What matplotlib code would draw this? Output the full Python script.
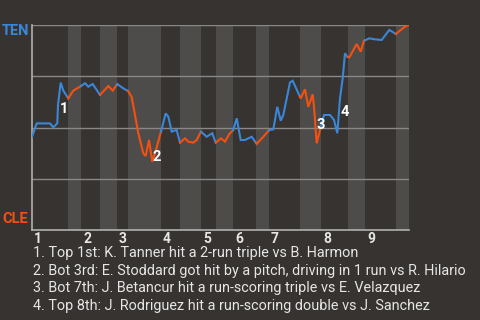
import matplotlib
matplotlib.use("Agg")
import matplotlib.pyplot as plt
import numpy as np

BG = "#363330"
BAND = "#4e4c4a"
GRID = "#8a8886"
BLUE = "#3a87d8"
ORANGE = "#f5500f"
TXT = "#e6e6e6"

plt.rcParams["font.family"] = ["Roboto", "DejaVu Sans"]

# game progress (play position) and TEN win probability (%)
progress = [0, 4.7, 18, 21.3, 25.3, 26, 28.7, 31.3, 36.3, 41.3, 48, 53, 56.3, 60.7,
            68, 76.3, 80.7, 85.3, 91.3, 96, 99.7, 103, 106.3, 111.3, 113.7, 117,
            120.3, 124.7, 129, 133.7, 136.3, 139.7, 144.7, 148, 153, 156.3, 161.3,
            164.7, 169, 174.7, 180.3, 183.7, 189, 193, 197.3, 201.3, 204.7, 208.7,
            213, 219.7, 224.7, 231.3, 237.3, 241.3, 245.3, 248.7, 251.3, 258, 260.7,
            268.7, 273, 276.3, 280.7, 282, 284.7, 288, 292, 298, 302, 305.3, 308,
            310.7, 313, 315.3, 317.3, 324.7, 328.7, 332, 337.3, 343, 349.7, 357.3,
            364, 368.7, 374, 377]
ten_wp = [45.4, 52.0, 52.0, 50.1, 52.0, 61.0, 71.9, 68.0, 64.2, 68.0, 69.9, 71.6, 69.9,
          71.2, 65.9, 70.2, 68.0, 71.2, 69.1, 67.8, 64.9, 56.1, 47.2, 37.4, 36.1, 43.9,
          33.3, 40.3, 48.0, 56.9, 55.3, 48.0, 48.8, 42.6, 44.7, 43.1, 42.6, 43.9, 48.0,
          45.5, 47.2, 42.6, 44.7, 43.1, 46.8, 48.8, 54.5, 43.9, 43.9, 45.5, 42.0, 45.5,
          48.8, 49.1, 60.1, 53.3, 56.1, 72.0, 72.8, 64.2, 68.6, 60.1, 66.2, 60.1, 42.3,
          48.8, 56.1, 56.1, 53.7, 47.2, 64.2, 74.0, 86.2, 84.5, 84.2, 90.7, 87.0, 92.3,
          93.5, 93.0, 92.7, 97.6, 95.6, 97.6, 99.5, 100]

# half-inning boundaries (top half, bottom half alternating)
half_bounds = [0, 36, 49, 68, 85, 96, 129, 148, 169, 184, 201, 224, 237, 268, 289,
               316, 333, 364, 377]
innings = ["1", "2", "3", "4", "5", "6", "7", "8", "9"]

events = [
    "1. Top 1st: K. Tanner hit a 2-run triple vs B. Harmon",
    "2. Bot 3rd: E. Stoddard got hit by a pitch, driving in 1 run vs R. Hilario",
    "3. Bot 7th: J. Betancur hit a run-scoring triple vs E. Velazquez",
    "4. Top 8th: J. Rodriguez hit a run-scoring double vs J. Sanchez",
]
event_x = [32, 124.7, 289, 313]
event_y = [59.0, 35.5, 51.2, 57.7]

x = np.array(progress)
p = np.array(ten_wp)

fig = plt.figure(figsize=(4.8, 3.2), dpi=100, facecolor=BG)
ax = fig.add_axes([32 / 480, 90 / 320, 377 / 480, 205 / 320])
ax.set_facecolor(BG)

for i in range(len(half_bounds) - 1):
    a, b = half_bounds[i], half_bounds[i + 1]
    if i % 2 == 1:
        ax.axvspan(a, b, color=BAND, lw=0, zorder=0)
    xs = np.concatenate([[a], x[(x > a) & (x < b)], [b]])
    ys = np.interp(xs, x, p)
    ax.plot(xs, ys, color=BLUE if i % 2 == 0 else ORANGE, lw=1.5,
            solid_joinstyle="miter", zorder=3)

for g in [25, 50, 75, 100]:
    ax.axhline(g, color=GRID, lw=1, zorder=1)

for lab, ex, ey in zip(["1", "2", "3", "4"], event_x, event_y):
    ax.text(ex, ey, lab, color="white", fontsize=10.5, fontweight="bold",
            ha="center", va="center", zorder=4)

ax.set_xlim(half_bounds[0], half_bounds[-1])
ax.set_ylim(0, 100)
ax.set_xticks([])
ax.set_yticks([])
for s in ["top", "right"]:
    ax.spines[s].set_visible(False)
for s in ["left", "bottom"]:
    ax.spines[s].set_color("#b0b0b0")
    ax.spines[s].set_linewidth(1.2)

for k, lab in enumerate(innings):
    ax.annotate(lab, xy=(half_bounds[2 * k], 0), xytext=(1.5, -1.5),
                textcoords="offset points", ha="left", va="top",
                color=TXT, fontsize=10, fontweight="bold", annotation_clip=False)

fig.text(2 / 480, 1 - 31 / 320, "TEN", color=BLUE, fontsize=10.5,
         fontweight="bold", ha="left", va="center")
fig.text(2 / 480, 1 - 219 / 320, "CLE", color=ORANGE, fontsize=10.5,
         fontweight="bold", ha="left", va="center")

for k, line in enumerate(events):
    fig.text(33 / 480, 1 - (253 + 17.7 * k) / 320, line, color=TXT,
             fontsize=10.4, ha="left", va="center")

fig.savefig("out.png", dpi=100, facecolor=BG)
